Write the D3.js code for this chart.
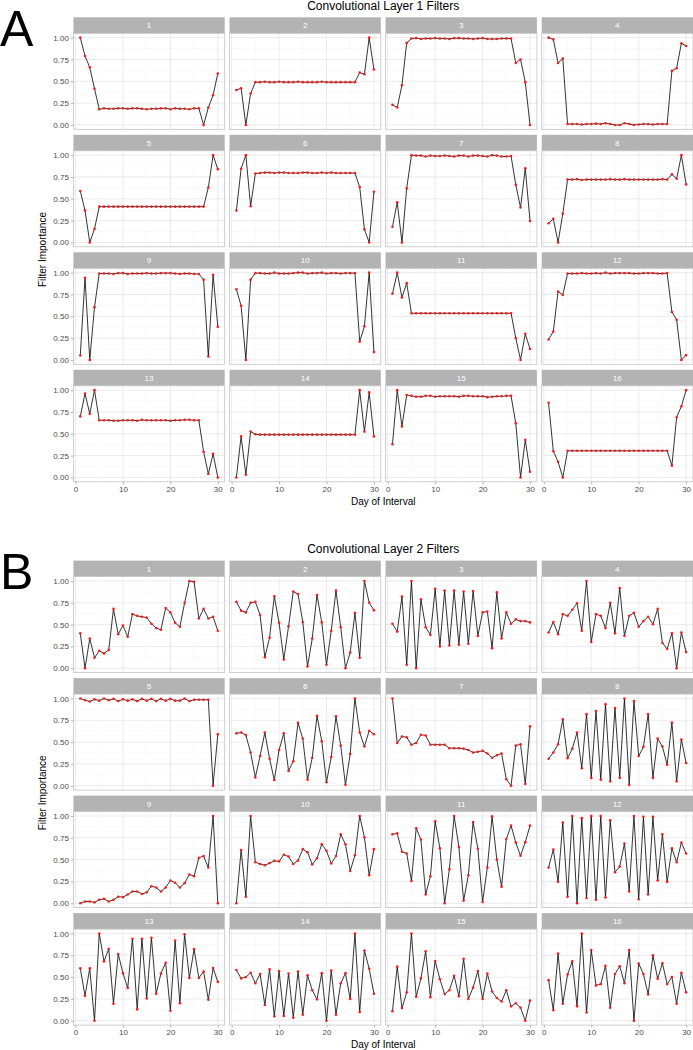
<!DOCTYPE html>
<html>
<head>
<meta charset="utf-8">
<script src="https://cdn.jsdelivr.net/npm/d3@7"></script>
<style>
  body { margin: 0; background: #fff; }
  text { font-family: "Liberation Sans", Arial, sans-serif; }
</style>
</head>
<body>
<div id="chart"></div>
<script>
// days on the x axis
let days = d3.range(1, 31);
let xTicks = [0, 10, 20, 30];
let xMinor = [5, 15, 25];
let yTicks = [0, 0.25, 0.5, 0.75, 1];
let yMinor = [0.125, 0.375, 0.625, 0.875];
let filterNames = ["1","2","3","4","5","6","7","8","9","10","11","12","13","14","15","16"];

// Convolutional layer 1 filter importance (filters 1..16, days 1..30)
let conv1 = [
  [1.00,0.79,0.66,0.415,0.18,0.19,0.185,0.185,0.19,0.19,0.185,0.19,0.19,0.185,0.18,0.185,0.185,0.19,0.19,0.18,0.19,0.185,0.185,0.18,0.19,0.19,0.00,0.20,0.34,0.59],
  [0.40,0.42,0.00,0.36,0.49,0.49,0.495,0.49,0.49,0.495,0.49,0.49,0.49,0.495,0.49,0.49,0.49,0.49,0.495,0.49,0.49,0.49,0.49,0.49,0.49,0.49,0.60,0.58,1.00,0.635],
  [0.23,0.20,0.455,0.94,0.99,0.995,0.985,0.99,0.99,0.995,0.99,0.99,0.985,0.995,0.995,0.99,0.99,0.985,0.99,0.995,0.985,0.985,0.985,0.99,0.99,0.99,0.71,0.75,0.49,0.00],
  [1.00,0.98,0.71,0.76,0.01,0.01,0.01,0.005,0.01,0.01,0.015,0.01,0.02,0.01,0.00,0.00,0.02,0.01,0.00,0.005,0.01,0.01,0.005,0.01,0.01,0.01,0.62,0.65,0.935,0.905],
  [0.59,0.365,0.00,0.155,0.41,0.41,0.41,0.41,0.41,0.41,0.41,0.41,0.41,0.41,0.41,0.41,0.41,0.41,0.41,0.41,0.41,0.41,0.41,0.41,0.41,0.41,0.41,0.63,1.00,0.84],
  [0.365,0.845,1.00,0.415,0.79,0.795,0.80,0.80,0.795,0.80,0.80,0.795,0.795,0.795,0.80,0.80,0.795,0.795,0.80,0.795,0.80,0.795,0.795,0.795,0.795,0.795,0.635,0.15,0.00,0.58],
  [0.18,0.46,0.00,0.62,1.00,0.995,0.995,0.985,0.995,0.99,0.99,0.995,0.99,0.985,0.995,0.995,0.985,0.995,0.995,0.99,0.985,1.00,0.995,0.985,0.985,0.99,0.66,0.40,0.85,0.245],
  [0.22,0.27,0.00,0.33,0.72,0.72,0.725,0.715,0.72,0.72,0.72,0.72,0.72,0.725,0.72,0.72,0.725,0.72,0.72,0.72,0.72,0.72,0.72,0.72,0.725,0.72,0.78,0.73,1.00,0.665],
  [0.05,0.94,0.00,0.605,0.99,0.99,0.99,0.985,0.995,0.995,0.985,0.99,0.99,0.99,0.995,0.99,0.99,0.995,0.995,0.995,0.99,0.985,0.99,0.99,0.985,0.985,0.92,0.04,0.975,0.38],
  [0.81,0.62,0.00,0.92,0.995,0.995,0.99,0.99,1.00,0.99,0.99,0.99,0.995,1.00,1.00,0.99,0.995,0.995,1.00,0.99,0.995,0.995,0.99,0.995,0.995,0.995,0.21,0.385,1.00,0.09],
  [0.76,1.00,0.715,0.88,0.535,0.535,0.535,0.535,0.535,0.535,0.535,0.535,0.535,0.535,0.535,0.535,0.535,0.535,0.535,0.535,0.535,0.535,0.535,0.535,0.535,0.535,0.25,0.00,0.30,0.125],
  [0.235,0.325,0.785,0.745,0.99,0.99,0.99,0.995,0.99,0.99,0.995,0.99,1.00,0.99,0.995,0.995,0.995,0.995,0.99,0.99,0.995,0.995,0.995,0.99,0.99,0.995,0.55,0.46,0.00,0.055],
  [0.70,0.96,0.73,1.00,0.655,0.655,0.655,0.65,0.65,0.655,0.655,0.655,0.65,0.66,0.655,0.655,0.655,0.655,0.655,0.65,0.655,0.655,0.66,0.66,0.655,0.655,0.295,0.04,0.27,0.00],
  [0.00,0.47,0.03,0.525,0.495,0.49,0.49,0.49,0.49,0.49,0.49,0.49,0.49,0.49,0.49,0.49,0.49,0.49,0.49,0.49,0.49,0.49,0.49,0.49,0.49,0.49,1.00,0.525,0.975,0.47],
  [0.38,1.00,0.585,0.945,0.935,0.925,0.925,0.935,0.935,0.925,0.93,0.93,0.93,0.93,0.925,0.935,0.935,0.93,0.93,0.93,0.92,0.925,0.93,0.93,0.935,0.935,0.62,0.00,0.43,0.065],
  [0.855,0.30,0.18,0.00,0.305,0.305,0.305,0.305,0.305,0.305,0.305,0.305,0.305,0.305,0.305,0.305,0.305,0.305,0.305,0.305,0.305,0.305,0.305,0.305,0.305,0.305,0.135,0.69,0.815,1.00]
];

// Convolutional layer 2 filter importance (filters 1..16, days 1..30)
let conv2 = [
  [0.40,0.00,0.34,0.12,0.20,0.17,0.21,0.68,0.39,0.49,0.36,0.62,0.60,0.59,0.58,0.51,0.46,0.44,0.69,0.64,0.52,0.475,0.75,1.00,0.99,0.57,0.68,0.57,0.59,0.43],
  [0.76,0.66,0.64,0.75,0.76,0.61,0.125,0.35,0.825,0.52,0.10,0.48,0.88,0.85,0.53,0.02,0.34,0.84,0.525,0.04,0.43,0.89,0.47,0.00,0.18,0.635,0.12,1.00,0.75,0.665],
  [0.51,0.42,0.82,0.04,1.00,0.00,0.79,0.47,0.38,0.91,0.25,0.89,0.26,0.89,0.27,0.88,0.28,0.885,0.37,0.64,0.65,0.23,0.87,0.34,0.64,0.51,0.56,0.54,0.54,0.525],
  [0.41,0.53,0.39,0.62,0.60,0.67,0.745,0.43,1.00,0.30,0.62,0.60,0.46,0.75,0.40,0.92,0.37,0.60,0.635,0.475,0.54,0.59,0.505,0.68,0.29,0.22,0.40,0.00,0.41,0.185],
  [1.00,0.98,0.965,0.99,0.975,1.00,0.98,0.995,0.97,0.99,0.975,0.99,0.97,0.995,0.975,0.995,0.97,0.995,0.975,0.995,0.975,0.975,1.00,0.97,0.985,0.985,0.985,0.985,0.00,0.59],
  [0.60,0.61,0.58,0.38,0.095,0.34,0.61,0.31,0.065,0.41,0.60,0.17,0.28,0.72,0.54,0.07,0.32,0.80,0.51,0.04,0.33,0.795,0.46,0.01,0.365,1.00,0.61,0.45,0.63,0.59],
  [1.00,0.49,0.565,0.555,0.47,0.49,0.585,0.575,0.47,0.47,0.47,0.47,0.43,0.43,0.43,0.425,0.41,0.38,0.39,0.40,0.37,0.32,0.35,0.37,0.075,0.00,0.46,0.475,0.02,0.68],
  [0.31,0.38,0.475,0.76,0.315,0.425,0.61,0.20,0.82,0.09,0.855,0.07,0.935,0.05,0.89,0.09,1.00,0.01,0.97,0.34,0.445,0.82,0.09,0.54,0.45,0.24,0.725,0.05,0.53,0.26],
  [0.00,0.02,0.02,0.01,0.04,0.05,0.02,0.04,0.075,0.07,0.10,0.135,0.135,0.105,0.125,0.195,0.18,0.135,0.18,0.26,0.235,0.18,0.23,0.33,0.31,0.52,0.54,0.41,1.00,0.00],
  [0.00,0.61,0.075,1.00,0.47,0.45,0.435,0.46,0.485,0.48,0.555,0.535,0.45,0.49,0.62,0.585,0.445,0.515,0.675,0.60,0.455,0.54,0.79,0.675,0.37,0.55,1.00,0.755,0.32,0.62],
  [0.79,0.80,0.59,0.57,0.255,0.86,0.73,0.10,0.31,0.94,0.63,0.00,0.39,1.00,0.645,0.03,0.32,0.93,0.625,0.015,0.41,0.995,0.50,0.19,0.735,0.89,0.695,0.545,0.70,0.89],
  [0.41,0.615,0.245,0.925,0.075,1.00,0.00,0.975,0.06,1.00,0.04,1.00,0.065,0.95,0.355,0.42,0.685,0.135,1.00,0.045,0.99,0.10,0.99,0.26,0.79,0.245,0.63,0.47,0.695,0.57],
  [0.60,0.285,0.60,0.00,1.00,0.68,0.825,0.195,0.765,0.545,0.375,0.94,0.13,0.94,0.255,0.95,0.31,0.54,0.665,0.115,0.92,0.20,0.99,0.49,0.82,0.49,0.565,0.24,0.605,0.445],
  [0.58,0.485,0.50,0.55,0.43,0.535,0.18,0.59,0.05,0.57,0.055,0.54,0.035,0.565,0.07,0.52,0.35,0.245,0.545,0.00,0.575,0.07,0.43,0.545,0.25,1.00,0.10,0.805,0.595,0.31],
  [0.11,0.62,0.145,0.325,1.00,0.275,0.485,0.795,0.27,0.685,0.475,0.305,0.35,0.515,0.28,0.71,0.25,0.38,0.57,0.25,0.54,0.335,0.26,0.22,0.35,0.165,0.20,0.15,0.00,0.23],
  [0.465,0.12,0.77,0.195,0.53,0.68,0.165,1.00,0.095,0.81,0.405,0.42,0.63,0.15,0.535,0.625,0.43,0.81,0.00,0.655,0.535,0.30,0.75,0.48,0.66,0.42,0.50,0.195,0.55,0.325]
];

let width = 693, height = 1050;

let svg = d3.select("#chart").append("svg")
  .attr("width", width)
  .attr("height", height);

// facet geometry
let panelLeft = 73.4, panelW = 151.3, colStep = 156.1;
let stripH = 16, panelH = 96, rowStep = 117.5;

// ggplot style 5% expansion
let x = d3.scaleLinear().domain([1 - 1.45, 30 + 1.45]).range([0, panelW]);
let y = d3.scaleLinear().domain([-0.05, 1.05]).range([panelH, 0]);

let line = d3.line()
  .x((d, i) => x(days[i]))
  .y(d => y(d));

drawLayer(conv1, "Convolutional Layer 1 Filters", "A", 0);
drawLayer(conv2, "Convolutional Layer 2 Filters", "B", 543.3);

function drawLayer(data, title, letter, offY) {
  let g = svg.append("g").attr("transform", "translate(0," + offY + ")");
  let top0 = 17.3;

  g.append("text")
    .attr("x", 0).attr("y", 45.5)
    .attr("font-size", 50)
    .attr("fill", "black")
    .text(letter);

  g.append("text")
    .attr("x", panelLeft + (3 * colStep + panelW) / 2)
    .attr("y", 10)
    .attr("text-anchor", "middle")
    .attr("font-size", 12)
    .text(title);

  data.forEach((vals, k) => {
    let r = Math.floor(k / 4), c = k % 4;
    let px = panelLeft + c * colStep;
    let sy = top0 + r * rowStep;
    let py = sy + stripH;

    // strip
    g.append("rect")
      .attr("x", px).attr("y", sy)
      .attr("width", panelW).attr("height", stripH)
      .attr("fill", "#b3b3b3");
    g.append("text")
      .attr("x", px + panelW / 2).attr("y", sy + 11)
      .attr("text-anchor", "middle")
      .attr("font-size", 8)
      .attr("fill", "white")
      .text(filterNames[k]);

    let p = g.append("g").attr("transform", "translate(" + px + "," + py + ")");

    // grid
    p.selectAll(".ymin").data(yMinor).enter().append("line")
      .attr("x1", 0).attr("x2", panelW)
      .attr("y1", d => y(d)).attr("y2", d => y(d))
      .attr("stroke", "#f2f2f2").attr("stroke-width", 0.5);
    p.selectAll(".xmin").data(xMinor).enter().append("line")
      .attr("y1", 0).attr("y2", panelH)
      .attr("x1", d => x(d)).attr("x2", d => x(d))
      .attr("stroke", "#f2f2f2").attr("stroke-width", 0.5);
    p.selectAll(".ymaj").data(yTicks).enter().append("line")
      .attr("x1", 0).attr("x2", panelW)
      .attr("y1", d => y(d)).attr("y2", d => y(d))
      .attr("stroke", "#e2e2e2").attr("stroke-width", 0.7);
    p.selectAll(".xmaj").data(xTicks).enter().append("line")
      .attr("y1", 0).attr("y2", panelH)
      .attr("x1", d => x(d)).attr("x2", d => x(d))
      .attr("stroke", "#e2e2e2").attr("stroke-width", 0.7);

    // series
    p.append("path")
      .datum(vals)
      .attr("d", line)
      .attr("fill", "none")
      .attr("stroke", "black")
      .attr("stroke-width", 0.8);
    p.selectAll(".pt").data(vals).enter().append("circle")
      .attr("cx", (d, i) => x(days[i]))
      .attr("cy", d => y(d))
      .attr("r", 1.3)
      .attr("fill", "#ff1a1a");

    // border
    p.append("rect")
      .attr("width", panelW).attr("height", panelH)
      .attr("fill", "none")
      .attr("stroke", "#c4c4c4").attr("stroke-width", 0.8);

    // axes on outer panels
    if (c === 0) {
      let ya = p.append("g").call(d3.axisLeft(y).tickValues(yTicks).tickFormat(d3.format(".2f")).tickSize(2.5).tickPadding(2));
      ya.select(".domain").remove();
      ya.selectAll("line").attr("stroke", "#b3b3b3");
      ya.selectAll("text").attr("font-size", 8).attr("fill", "#4d4d4d")
        .attr("font-family", "Liberation Sans, Arial, sans-serif");
    }
    if (r === 3) {
      let xa = p.append("g").attr("transform", "translate(0," + panelH + ")")
        .call(d3.axisBottom(x).tickValues(xTicks).tickSize(2.5).tickPadding(2));
      xa.select(".domain").remove();
      xa.selectAll("line").attr("stroke", "#b3b3b3");
      xa.selectAll("text").attr("font-size", 8).attr("fill", "#4d4d4d")
        .attr("font-family", "Liberation Sans, Arial, sans-serif");
    }
  });

  let bottom = top0 + 3 * rowStep + stripH + panelH;

  g.append("text")
    .attr("x", panelLeft + (3 * colStep + panelW) / 2)
    .attr("y", bottom + 23)
    .attr("text-anchor", "middle")
    .attr("font-size", 10)
    .text("Day of Interval");

  g.append("text")
    .attr("transform", "translate(45.5," + ((top0 + bottom) / 2) + ") rotate(-90)")
    .attr("text-anchor", "middle")
    .attr("font-size", 10)
    .text("Filter Importance");
}
</script>
</body>
</html>
